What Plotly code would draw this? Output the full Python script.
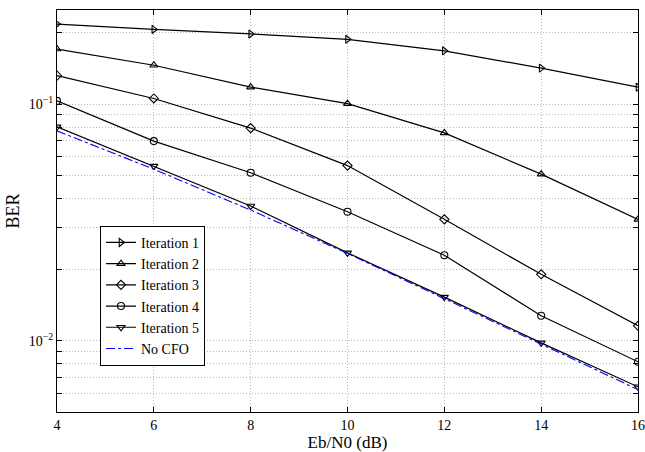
import numpy as np
import plotly.graph_objects as go

ebn0 = [4, 6, 8, 10, 12, 14, 16]
iter1 = [0.218, 0.207, 0.198, 0.188, 0.168, 0.142, 0.118]
iter2 = [0.171, 0.146, 0.118, 0.1005, 0.0756, 0.0506, 0.0326]
iter3 = [0.132, 0.1057, 0.0792, 0.0550, 0.0326, 0.0191, 0.01157]
iter4 = [0.1032, 0.0698, 0.0513, 0.0351, 0.0230, 0.01275, 0.00815]
iter5 = [0.0802, 0.0547, 0.0371, 0.02353, 0.01529, 0.0098, 0.00639]
no_cfo = [0.0771, 0.0531, 0.0357, 0.0234, 0.01507, 0.00968, 0.00622]

series_names = ["Iteration 1", "Iteration 2", "Iteration 3", "Iteration 4", "Iteration 5"]
series_vals = [iter1, iter2, iter3, iter4, iter5]
symbols = ["triangle-right-open", "triangle-up-open", "diamond-open", "circle-open", "triangle-down-open"]

x_ticks = [4, 6, 8, 10, 12, 14, 16]
y_grid = [0.005, 0.006, 0.007, 0.008, 0.009, 0.01, 0.02, 0.03, 0.04, 0.05, 0.06,
          0.07, 0.08, 0.09, 0.1, 0.2]
y_labels = {0.01: "10<sup>\u22122</sup>", 0.1: "10<sup>\u22121</sup>"}

FONT = "Times New Roman"

fig = go.Figure()
for name, vals, sym in zip(series_names, series_vals, symbols):
    fig.add_trace(go.Scatter(
        x=ebn0, y=vals, name=name, mode="lines+markers",
        line=dict(color="black", width=1.2),
        marker=dict(symbol=sym, size=7, color="black", line=dict(width=1.1, color="black")),
    ))
fig.add_trace(go.Scatter(
    x=ebn0, y=no_cfo, name="No CFO", mode="lines",
    line=dict(color="blue", width=1.1, dash="dashdot"),
))

fig.update_layout(
    width=645, height=452,
    margin=dict(l=57, r=7, t=10, b=40, autoexpand=False),
    paper_bgcolor="white", plot_bgcolor="white",
    font=dict(family=FONT, size=14, color="black"),
    showlegend=True,
    legend=dict(
        x=0.074, y=0.463, xanchor="left", yanchor="top",
        bgcolor="white", bordercolor="black", borderwidth=1,
        font=dict(family=FONT, size=14, color="black"),
        tracegroupgap=0, itemwidth=30,
    ),
)
fig.update_xaxes(
    range=[4, 16], tickvals=x_ticks, ticktext=[str(v) for v in x_ticks],
    showgrid=True, gridcolor="#b8b8b8", griddash="1px,2px", gridwidth=1,
    ticks="inside", ticklen=5, tickcolor="black", mirror="allticks",
    showline=True, linecolor="black", linewidth=1.2,
    zeroline=False, automargin=False,
    title=dict(text="Eb/N0 (dB)", font=dict(family=FONT, size=17), standoff=2),
    tickfont=dict(family=FONT, size=14),
)
fig.update_yaxes(
    type="log", range=[np.log10(0.005), np.log10(0.25)],
    tickvals=y_grid, ticktext=[y_labels.get(v, "") for v in y_grid],
    showgrid=True, gridcolor="#b8b8b8", griddash="1px,2px", gridwidth=1,
    ticks="inside", ticklen=5, tickcolor="black", mirror="allticks",
    showline=True, linecolor="black", linewidth=1.2,
    zeroline=False, automargin=False,
    title=dict(text="BER", font=dict(family=FONT, size=18), standoff=4),
    tickfont=dict(family=FONT, size=14),
)

fig.write_html(
    "out.html",
    config={"displayModeBar": False},
    post_script="document.body.style.margin='0';document.body.style.padding='0';",
)
